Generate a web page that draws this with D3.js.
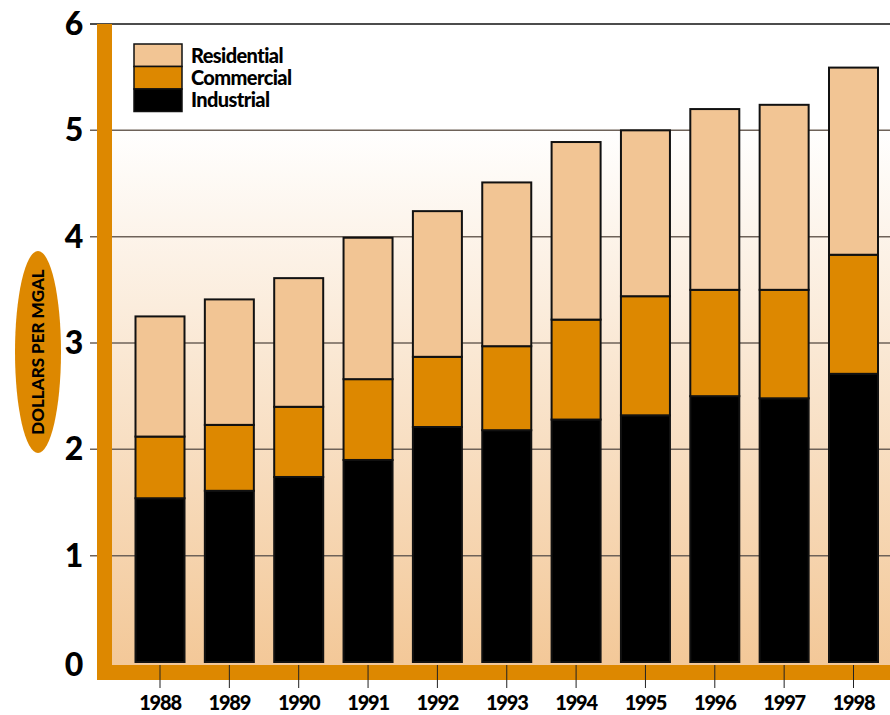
<!DOCTYPE html>
<html><head><meta charset="utf-8">
<script src="https://cdn.jsdelivr.net/npm/d3@7"></script>
<style>body{margin:0;background:#fff}svg{display:block}text{font-family:Lato,"Open Sans",sans-serif;font-weight:900;fill:#000}</style>
</head><body><svg id="c" width="890" height="715"></svg>
<script>
const years = ["1988","1989","1990","1991","1992","1993","1994","1995","1996","1997","1998"];
const industrial  = [1.54,1.61,1.74,1.90,2.21,2.18,2.28,2.32,2.50,2.48,2.71];
const commercial  = [0.58,0.62,0.66,0.76,0.66,0.79,0.94,1.12,1.00,1.02,1.12];
const residential = [1.13,1.18,1.21,1.33,1.37,1.54,1.67,1.56,1.70,1.74,1.76];
const seriesNames = ["Industrial","Commercial","Residential"];
const seriesColors = ["#000000","#dd8800","#f2c594"];
const yTicks = [0,1,2,3,4,5,6];

const svg = d3.select("#c");
const x = d3.scalePoint().domain(years).range([160,853.5]);
const bw = 49;
const y = d3.scaleLinear().domain([0,6]).range([662,24]);

const defs = svg.append("defs");
const g = defs.append("linearGradient").attr("id","bg").attr("x1",0).attr("y1",0).attr("x2",0).attr("y2",1);
g.append("stop").attr("offset","0%").attr("stop-color","#ffffff");
g.append("stop").attr("offset","16%").attr("stop-color","#ffffff");
g.append("stop").attr("offset","100%").attr("stop-color","#f3c898");
svg.append("rect").attr("x",112).attr("y",24).attr("width",778).attr("height",641).attr("fill","url(#bg)");

// gridlines
svg.append("g").selectAll("line").data(yTicks.filter(d=>d>0)).join("line")
  .attr("x1",90).attr("x2",890).attr("y1",d=>y(d)).attr("y2",d=>y(d))
  .attr("stroke",d=>d===6?"#111":"#6e6259").attr("stroke-width",1.5);

// stacked bars
const rows = years.map((yr,i)=>({year:yr,Industrial:industrial[i],Commercial:commercial[i],Residential:residential[i]}));
const stack = d3.stack().keys(seriesNames)(rows);
svg.append("g").selectAll("g").data(stack).join("g")
  .attr("fill",(d,i)=>seriesColors[i])
  .selectAll("rect").data(d=>d).join("rect")
  .attr("x",d=>x(d.data.year)-bw/2).attr("width",bw)
  .attr("y",d=>y(d[1])).attr("height",d=>y(d[0])-y(d[1]))
  .attr("stroke","#111").attr("stroke-width",2);

// orange axis bands
svg.append("rect").attr("x",97).attr("y",24).attr("width",15).attr("height",656).attr("fill","#dd8800");
svg.append("rect").attr("x",97).attr("y",665).attr("width",793).attr("height",15).attr("fill","#dd8800");

// x ticks and labels
const xa = svg.append("g");
xa.selectAll("line").data(years).join("line")
  .attr("x1",d=>x(d)).attr("x2",d=>x(d)).attr("y1",665).attr("y2",688)
  .attr("stroke","#222").attr("stroke-width",1);
xa.selectAll("text").data(years).join("text")
  .attr("x",d=>x(d)).attr("y",710).attr("text-anchor","middle")
  .attr("font-size",20).attr("letter-spacing",-1.2).text(d=>d);

// y labels
svg.append("g").selectAll("text").data(yTicks).join("text")
  .attr("x",74).attr("y",d=>y(d)+(d===0?14:11)).attr("text-anchor","middle")
  .attr("font-size",32).text(d=>d);

// y title
svg.append("ellipse").attr("cx",38).attr("cy",352).attr("rx",23).attr("ry",101).attr("fill","#dd8800");
svg.append("text").attr("transform","translate(44,352) rotate(-90)").attr("text-anchor","middle")
  .attr("font-size",17).attr("letter-spacing",0).text("DOLLARS PER MGAL");

// legend
const legendOrder = [2,1,0];
const lg = svg.append("g");
legendOrder.forEach((si,k)=>{
  lg.append("rect").attr("x",134).attr("y",44+k*22.5).attr("width",48).attr("height",22.5)
    .attr("fill",seriesColors[si]).attr("stroke","#111").attr("stroke-width",1.5);
  lg.append("text").attr("x",191).attr("y",63+k*22).attr("font-size",20).attr("letter-spacing",-0.6).text(seriesNames[si]);
});
</script></body></html>
